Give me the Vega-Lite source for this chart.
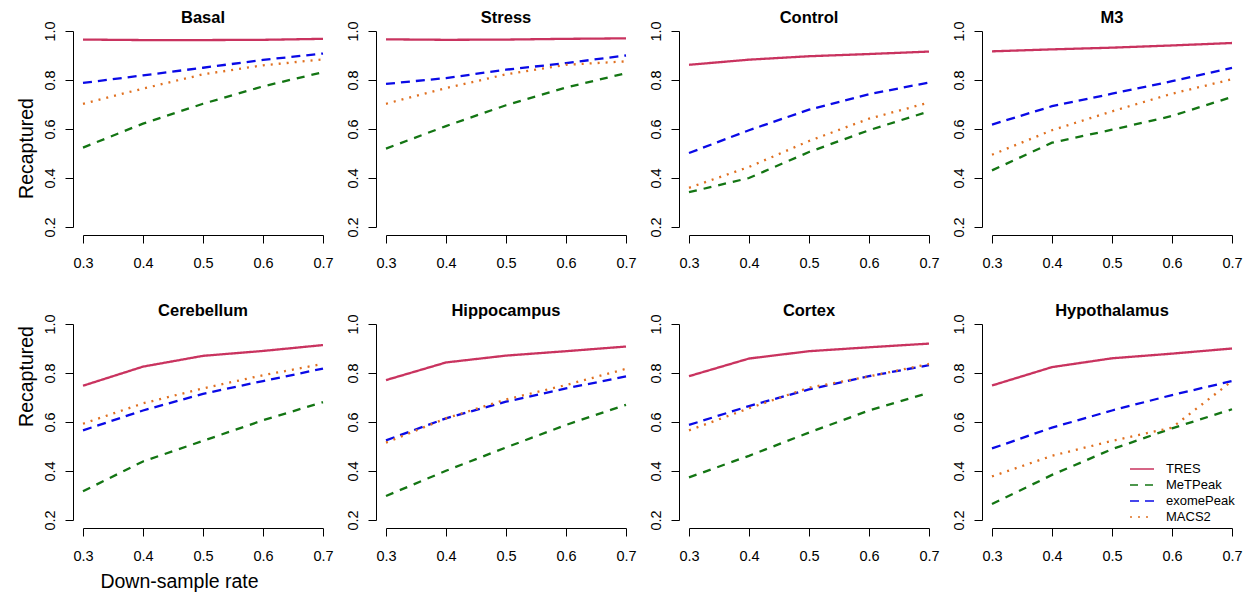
{
"$schema": "https://vega.github.io/schema/vega-lite/v6.json",
"padding": {"left": 15, "top": 10, "right": 0, "bottom": 5},
"background": "white",
"data": {"values": [
{"p":"Basal","m":"TRES","r":0.3,"v":0.965},{"p":"Basal","m":"TRES","r":0.4,"v":0.963},{"p":"Basal","m":"TRES","r":0.5,"v":0.963},{"p":"Basal","m":"TRES","r":0.6,"v":0.964},{"p":"Basal","m":"TRES","r":0.7,"v":0.968},
{"p":"Basal","m":"MeTPeak","r":0.3,"v":0.524},{"p":"Basal","m":"MeTPeak","r":0.4,"v":0.622},{"p":"Basal","m":"MeTPeak","r":0.5,"v":0.703},{"p":"Basal","m":"MeTPeak","r":0.6,"v":0.774},{"p":"Basal","m":"MeTPeak","r":0.7,"v":0.832},
{"p":"Basal","m":"exomePeak","r":0.3,"v":0.788},{"p":"Basal","m":"exomePeak","r":0.4,"v":0.819},{"p":"Basal","m":"exomePeak","r":0.5,"v":0.85},{"p":"Basal","m":"exomePeak","r":0.6,"v":0.882},{"p":"Basal","m":"exomePeak","r":0.7,"v":0.908},
{"p":"Basal","m":"MACS2","r":0.3,"v":0.703},{"p":"Basal","m":"MACS2","r":0.4,"v":0.765},{"p":"Basal","m":"MACS2","r":0.5,"v":0.823},{"p":"Basal","m":"MACS2","r":0.6,"v":0.86},{"p":"Basal","m":"MACS2","r":0.7,"v":0.884},
{"p":"Stress","m":"TRES","r":0.3,"v":0.966},{"p":"Stress","m":"TRES","r":0.4,"v":0.964},{"p":"Stress","m":"TRES","r":0.5,"v":0.965},{"p":"Stress","m":"TRES","r":0.6,"v":0.968},{"p":"Stress","m":"TRES","r":0.7,"v":0.97},
{"p":"Stress","m":"MeTPeak","r":0.3,"v":0.52},{"p":"Stress","m":"MeTPeak","r":0.4,"v":0.612},{"p":"Stress","m":"MeTPeak","r":0.5,"v":0.697},{"p":"Stress","m":"MeTPeak","r":0.6,"v":0.769},{"p":"Stress","m":"MeTPeak","r":0.7,"v":0.828},
{"p":"Stress","m":"exomePeak","r":0.3,"v":0.784},{"p":"Stress","m":"exomePeak","r":0.4,"v":0.808},{"p":"Stress","m":"exomePeak","r":0.5,"v":0.842},{"p":"Stress","m":"exomePeak","r":0.6,"v":0.869},{"p":"Stress","m":"exomePeak","r":0.7,"v":0.9},
{"p":"Stress","m":"MACS2","r":0.3,"v":0.703},{"p":"Stress","m":"MACS2","r":0.4,"v":0.767},{"p":"Stress","m":"MACS2","r":0.5,"v":0.823},{"p":"Stress","m":"MACS2","r":0.6,"v":0.862},{"p":"Stress","m":"MACS2","r":0.7,"v":0.876},
{"p":"Control","m":"TRES","r":0.3,"v":0.862},{"p":"Control","m":"TRES","r":0.4,"v":0.883},{"p":"Control","m":"TRES","r":0.5,"v":0.897},{"p":"Control","m":"TRES","r":0.6,"v":0.906},{"p":"Control","m":"TRES","r":0.7,"v":0.916},
{"p":"Control","m":"MeTPeak","r":0.3,"v":0.342},{"p":"Control","m":"MeTPeak","r":0.4,"v":0.4},{"p":"Control","m":"MeTPeak","r":0.5,"v":0.506},{"p":"Control","m":"MeTPeak","r":0.6,"v":0.595},{"p":"Control","m":"MeTPeak","r":0.7,"v":0.672},
{"p":"Control","m":"exomePeak","r":0.3,"v":0.502},{"p":"Control","m":"exomePeak","r":0.4,"v":0.595},{"p":"Control","m":"exomePeak","r":0.5,"v":0.679},{"p":"Control","m":"exomePeak","r":0.6,"v":0.742},{"p":"Control","m":"exomePeak","r":0.7,"v":0.79},
{"p":"Control","m":"MACS2","r":0.3,"v":0.36},{"p":"Control","m":"MACS2","r":0.4,"v":0.445},{"p":"Control","m":"MACS2","r":0.5,"v":0.551},{"p":"Control","m":"MACS2","r":0.6,"v":0.642},{"p":"Control","m":"MACS2","r":0.7,"v":0.708},
{"p":"M3","m":"TRES","r":0.3,"v":0.917},{"p":"M3","m":"TRES","r":0.4,"v":0.925},{"p":"M3","m":"TRES","r":0.5,"v":0.932},{"p":"M3","m":"TRES","r":0.6,"v":0.941},{"p":"M3","m":"TRES","r":0.7,"v":0.951},
{"p":"M3","m":"MeTPeak","r":0.3,"v":0.431},{"p":"M3","m":"MeTPeak","r":0.4,"v":0.544},{"p":"M3","m":"MeTPeak","r":0.5,"v":0.597},{"p":"M3","m":"MeTPeak","r":0.6,"v":0.653},{"p":"M3","m":"MeTPeak","r":0.7,"v":0.731},
{"p":"M3","m":"exomePeak","r":0.3,"v":0.618},{"p":"M3","m":"exomePeak","r":0.4,"v":0.693},{"p":"M3","m":"exomePeak","r":0.5,"v":0.744},{"p":"M3","m":"exomePeak","r":0.6,"v":0.795},{"p":"M3","m":"exomePeak","r":0.7,"v":0.849},
{"p":"M3","m":"MACS2","r":0.3,"v":0.495},{"p":"M3","m":"MACS2","r":0.4,"v":0.595},{"p":"M3","m":"MACS2","r":0.5,"v":0.672},{"p":"M3","m":"MACS2","r":0.6,"v":0.744},{"p":"M3","m":"MACS2","r":0.7,"v":0.803},
{"p":"Cerebellum","m":"TRES","r":0.3,"v":0.748},{"p":"Cerebellum","m":"TRES","r":0.4,"v":0.826},{"p":"Cerebellum","m":"TRES","r":0.5,"v":0.87},{"p":"Cerebellum","m":"TRES","r":0.6,"v":0.89},{"p":"Cerebellum","m":"TRES","r":0.7,"v":0.914},
{"p":"Cerebellum","m":"MeTPeak","r":0.3,"v":0.317},{"p":"Cerebellum","m":"MeTPeak","r":0.4,"v":0.439},{"p":"Cerebellum","m":"MeTPeak","r":0.5,"v":0.523},{"p":"Cerebellum","m":"MeTPeak","r":0.6,"v":0.607},{"p":"Cerebellum","m":"MeTPeak","r":0.7,"v":0.681},
{"p":"Cerebellum","m":"exomePeak","r":0.3,"v":0.566},{"p":"Cerebellum","m":"exomePeak","r":0.4,"v":0.647},{"p":"Cerebellum","m":"exomePeak","r":0.5,"v":0.715},{"p":"Cerebellum","m":"exomePeak","r":0.6,"v":0.767},{"p":"Cerebellum","m":"exomePeak","r":0.7,"v":0.818},
{"p":"Cerebellum","m":"MACS2","r":0.3,"v":0.593},{"p":"Cerebellum","m":"MACS2","r":0.4,"v":0.676},{"p":"Cerebellum","m":"MACS2","r":0.5,"v":0.737},{"p":"Cerebellum","m":"MACS2","r":0.6,"v":0.791},{"p":"Cerebellum","m":"MACS2","r":0.7,"v":0.837},
{"p":"Hippocampus","m":"TRES","r":0.3,"v":0.771},{"p":"Hippocampus","m":"TRES","r":0.4,"v":0.843},{"p":"Hippocampus","m":"TRES","r":0.5,"v":0.871},{"p":"Hippocampus","m":"TRES","r":0.6,"v":0.889},{"p":"Hippocampus","m":"TRES","r":0.7,"v":0.908},
{"p":"Hippocampus","m":"MeTPeak","r":0.3,"v":0.298},{"p":"Hippocampus","m":"MeTPeak","r":0.4,"v":0.401},{"p":"Hippocampus","m":"MeTPeak","r":0.5,"v":0.496},{"p":"Hippocampus","m":"MeTPeak","r":0.6,"v":0.588},{"p":"Hippocampus","m":"MeTPeak","r":0.7,"v":0.67},
{"p":"Hippocampus","m":"exomePeak","r":0.3,"v":0.525},{"p":"Hippocampus","m":"exomePeak","r":0.4,"v":0.615},{"p":"Hippocampus","m":"exomePeak","r":0.5,"v":0.683},{"p":"Hippocampus","m":"exomePeak","r":0.6,"v":0.737},{"p":"Hippocampus","m":"exomePeak","r":0.7,"v":0.786},
{"p":"Hippocampus","m":"MACS2","r":0.3,"v":0.516},{"p":"Hippocampus","m":"MACS2","r":0.4,"v":0.615},{"p":"Hippocampus","m":"MACS2","r":0.5,"v":0.692},{"p":"Hippocampus","m":"MACS2","r":0.6,"v":0.751},{"p":"Hippocampus","m":"MACS2","r":0.7,"v":0.817},
{"p":"Cortex","m":"TRES","r":0.3,"v":0.787},{"p":"Cortex","m":"TRES","r":0.4,"v":0.859},{"p":"Cortex","m":"TRES","r":0.5,"v":0.889},{"p":"Cortex","m":"TRES","r":0.6,"v":0.905},{"p":"Cortex","m":"TRES","r":0.7,"v":0.92},
{"p":"Cortex","m":"MeTPeak","r":0.3,"v":0.374},{"p":"Cortex","m":"MeTPeak","r":0.4,"v":0.462},{"p":"Cortex","m":"MeTPeak","r":0.5,"v":0.557},{"p":"Cortex","m":"MeTPeak","r":0.6,"v":0.647},{"p":"Cortex","m":"MeTPeak","r":0.7,"v":0.719},
{"p":"Cortex","m":"exomePeak","r":0.3,"v":0.588},{"p":"Cortex","m":"exomePeak","r":0.4,"v":0.665},{"p":"Cortex","m":"exomePeak","r":0.5,"v":0.733},{"p":"Cortex","m":"exomePeak","r":0.6,"v":0.787},{"p":"Cortex","m":"exomePeak","r":0.7,"v":0.832},
{"p":"Cortex","m":"MACS2","r":0.3,"v":0.566},{"p":"Cortex","m":"MACS2","r":0.4,"v":0.656},{"p":"Cortex","m":"MACS2","r":0.5,"v":0.74},{"p":"Cortex","m":"MACS2","r":0.6,"v":0.786},{"p":"Cortex","m":"MACS2","r":0.7,"v":0.837},
{"p":"Hypothalamus","m":"TRES","r":0.3,"v":0.749},{"p":"Hypothalamus","m":"TRES","r":0.4,"v":0.824},{"p":"Hypothalamus","m":"TRES","r":0.5,"v":0.86},{"p":"Hypothalamus","m":"TRES","r":0.6,"v":0.879},{"p":"Hypothalamus","m":"TRES","r":0.7,"v":0.9},
{"p":"Hypothalamus","m":"MeTPeak","r":0.3,"v":0.265},{"p":"Hypothalamus","m":"MeTPeak","r":0.4,"v":0.384},{"p":"Hypothalamus","m":"MeTPeak","r":0.5,"v":0.489},{"p":"Hypothalamus","m":"MeTPeak","r":0.6,"v":0.574},{"p":"Hypothalamus","m":"MeTPeak","r":0.7,"v":0.652},
{"p":"Hypothalamus","m":"exomePeak","r":0.3,"v":0.492},{"p":"Hypothalamus","m":"exomePeak","r":0.4,"v":0.577},{"p":"Hypothalamus","m":"exomePeak","r":0.5,"v":0.647},{"p":"Hypothalamus","m":"exomePeak","r":0.6,"v":0.71},{"p":"Hypothalamus","m":"exomePeak","r":0.7,"v":0.767},
{"p":"Hypothalamus","m":"MACS2","r":0.3,"v":0.378},{"p":"Hypothalamus","m":"MACS2","r":0.4,"v":0.462},{"p":"Hypothalamus","m":"MACS2","r":0.5,"v":0.523},{"p":"Hypothalamus","m":"MACS2","r":0.6,"v":0.577},{"p":"Hypothalamus","m":"MACS2","r":0.7,"v":0.767}
]},
"columns": 4,
"align": "each",
"spacing": {"row": 33, "column": 10},
"concat": [
{"title": "Basal", "width": 240, "height": 196, "transform": [{"filter": "datum.p === 'Basal'"}], "mark": {"type": "line", "strokeWidth": 2.3},
 "encoding": {"x": {"field": "r", "type": "quantitative", "scale": {"domain": [0.3, 0.7], "nice": false, "zero": false}, "axis": {"values": [0.3,0.4,0.5,0.6,0.7], "format": ".1f", "title": null}},
  "y": {"field": "v", "type": "quantitative", "scale": {"domain": [0.2, 1.0], "nice": false, "zero": false}, "axis": {"values": [0.2,0.4,0.6,0.8,1.0], "format": ".1f", "title": "Recaptured", "titleY": 117}},
  "color": {"field": "m", "type": "nominal", "scale": {"domain": ["TRES","MeTPeak","exomePeak","MACS2"], "range": ["#c9335f","#137513","#0a0ae6","#e07020"]}, "title": null},
  "strokeDash": {"field": "m", "type": "nominal", "scale": {"domain": ["TRES","MeTPeak","exomePeak","MACS2"], "range": [[1,0],[8,7],[9,6],[2,6]]}, "title": null}}},
{"title": "Stress", "width": 240, "height": 196, "transform": [{"filter": "datum.p === 'Stress'"}], "mark": {"type": "line", "strokeWidth": 2.3},
 "encoding": {"x": {"field": "r", "type": "quantitative", "scale": {"domain": [0.3, 0.7], "nice": false, "zero": false}, "axis": {"values": [0.3,0.4,0.5,0.6,0.7], "format": ".1f", "title": null}},
  "y": {"field": "v", "type": "quantitative", "scale": {"domain": [0.2, 1.0], "nice": false, "zero": false}, "axis": {"values": [0.2,0.4,0.6,0.8,1.0], "format": ".1f", "title": null}},
  "color": {"field": "m", "type": "nominal", "title": null},
  "strokeDash": {"field": "m", "type": "nominal", "title": null}}},
{"title": "Control", "width": 240, "height": 196, "transform": [{"filter": "datum.p === 'Control'"}], "mark": {"type": "line", "strokeWidth": 2.3},
 "encoding": {"x": {"field": "r", "type": "quantitative", "scale": {"domain": [0.3, 0.7], "nice": false, "zero": false}, "axis": {"values": [0.3,0.4,0.5,0.6,0.7], "format": ".1f", "title": null}},
  "y": {"field": "v", "type": "quantitative", "scale": {"domain": [0.2, 1.0], "nice": false, "zero": false}, "axis": {"values": [0.2,0.4,0.6,0.8,1.0], "format": ".1f", "title": null}},
  "color": {"field": "m", "type": "nominal", "title": null},
  "strokeDash": {"field": "m", "type": "nominal", "title": null}}},
{"title": "M3", "width": 240, "height": 196, "transform": [{"filter": "datum.p === 'M3'"}], "mark": {"type": "line", "strokeWidth": 2.3},
 "encoding": {"x": {"field": "r", "type": "quantitative", "scale": {"domain": [0.3, 0.7], "nice": false, "zero": false}, "axis": {"values": [0.3,0.4,0.5,0.6,0.7], "format": ".1f", "title": null}},
  "y": {"field": "v", "type": "quantitative", "scale": {"domain": [0.2, 1.0], "nice": false, "zero": false}, "axis": {"values": [0.2,0.4,0.6,0.8,1.0], "format": ".1f", "title": null}},
  "color": {"field": "m", "type": "nominal", "title": null},
  "strokeDash": {"field": "m", "type": "nominal", "title": null}}},
{"title": "Cerebellum", "width": 240, "height": 196, "transform": [{"filter": "datum.p === 'Cerebellum'"}], "mark": {"type": "line", "strokeWidth": 2.3},
 "encoding": {"x": {"field": "r", "type": "quantitative", "scale": {"domain": [0.3, 0.7], "nice": false, "zero": false}, "axis": {"values": [0.3,0.4,0.5,0.6,0.7], "format": ".1f", "title": "Down-sample rate", "titleX": 96, "titlePadding": 10}},
  "y": {"field": "v", "type": "quantitative", "scale": {"domain": [0.2, 1.0], "nice": false, "zero": false}, "axis": {"values": [0.2,0.4,0.6,0.8,1.0], "format": ".1f", "title": "Recaptured", "titleY": 52}},
  "color": {"field": "m", "type": "nominal", "title": null},
  "strokeDash": {"field": "m", "type": "nominal", "title": null}}},
{"title": "Hippocampus", "width": 240, "height": 196, "transform": [{"filter": "datum.p === 'Hippocampus'"}], "mark": {"type": "line", "strokeWidth": 2.3},
 "encoding": {"x": {"field": "r", "type": "quantitative", "scale": {"domain": [0.3, 0.7], "nice": false, "zero": false}, "axis": {"values": [0.3,0.4,0.5,0.6,0.7], "format": ".1f", "title": null}},
  "y": {"field": "v", "type": "quantitative", "scale": {"domain": [0.2, 1.0], "nice": false, "zero": false}, "axis": {"values": [0.2,0.4,0.6,0.8,1.0], "format": ".1f", "title": null}},
  "color": {"field": "m", "type": "nominal", "title": null},
  "strokeDash": {"field": "m", "type": "nominal", "title": null}}},
{"title": "Cortex", "width": 240, "height": 196, "transform": [{"filter": "datum.p === 'Cortex'"}], "mark": {"type": "line", "strokeWidth": 2.3},
 "encoding": {"x": {"field": "r", "type": "quantitative", "scale": {"domain": [0.3, 0.7], "nice": false, "zero": false}, "axis": {"values": [0.3,0.4,0.5,0.6,0.7], "format": ".1f", "title": null}},
  "y": {"field": "v", "type": "quantitative", "scale": {"domain": [0.2, 1.0], "nice": false, "zero": false}, "axis": {"values": [0.2,0.4,0.6,0.8,1.0], "format": ".1f", "title": null}},
  "color": {"field": "m", "type": "nominal", "title": null},
  "strokeDash": {"field": "m", "type": "nominal", "title": null}}},
{"title": "Hypothalamus", "width": 240, "height": 196, "transform": [{"filter": "datum.p === 'Hypothalamus'"}], "mark": {"type": "line", "strokeWidth": 2.3},
 "encoding": {"x": {"field": "r", "type": "quantitative", "scale": {"domain": [0.3, 0.7], "nice": false, "zero": false}, "axis": {"values": [0.3,0.4,0.5,0.6,0.7], "format": ".1f", "title": null}},
  "y": {"field": "v", "type": "quantitative", "scale": {"domain": [0.2, 1.0], "nice": false, "zero": false}, "axis": {"values": [0.2,0.4,0.6,0.8,1.0], "format": ".1f", "title": null}},
  "color": {"field": "m", "type": "nominal", "title": null},
  "strokeDash": {"field": "m", "type": "nominal", "title": null}}}
],
"config": {
  "font": "Liberation Sans",
  "view": {"stroke": null},
  "title": {"fontSize": 16.5, "fontWeight": "bold", "color": "black", "offset": -6, "anchor": "middle"},
  "axis": {"grid": false, "domainColor": "black", "tickColor": "black", "labelColor": "black", "titleColor": "black", "labelFontSize": 14.5, "titleFontSize": 19.5, "titleFontWeight": "normal", "tickSize": 8, "domainWidth": 1, "tickWidth": 1},
  "axisX": {"offset": 8, "labelPadding": 13, "labelFlush": false},
  "axisY": {"offset": 10, "labelAngle": 270, "labelPadding": 8, "labelFlush": false, "titlePadding": 6},
  "legend": {"orient": "none", "legendX": 1050, "legendY": 429, "labelFontSize": 13, "labelColor": "black", "symbolType": "M-1.5,0L1.5,0", "symbolSize": 256, "symbolStrokeWidth": 1.3, "rowPadding": 0, "labelOffset": 15, "padding": 0}
}
}
